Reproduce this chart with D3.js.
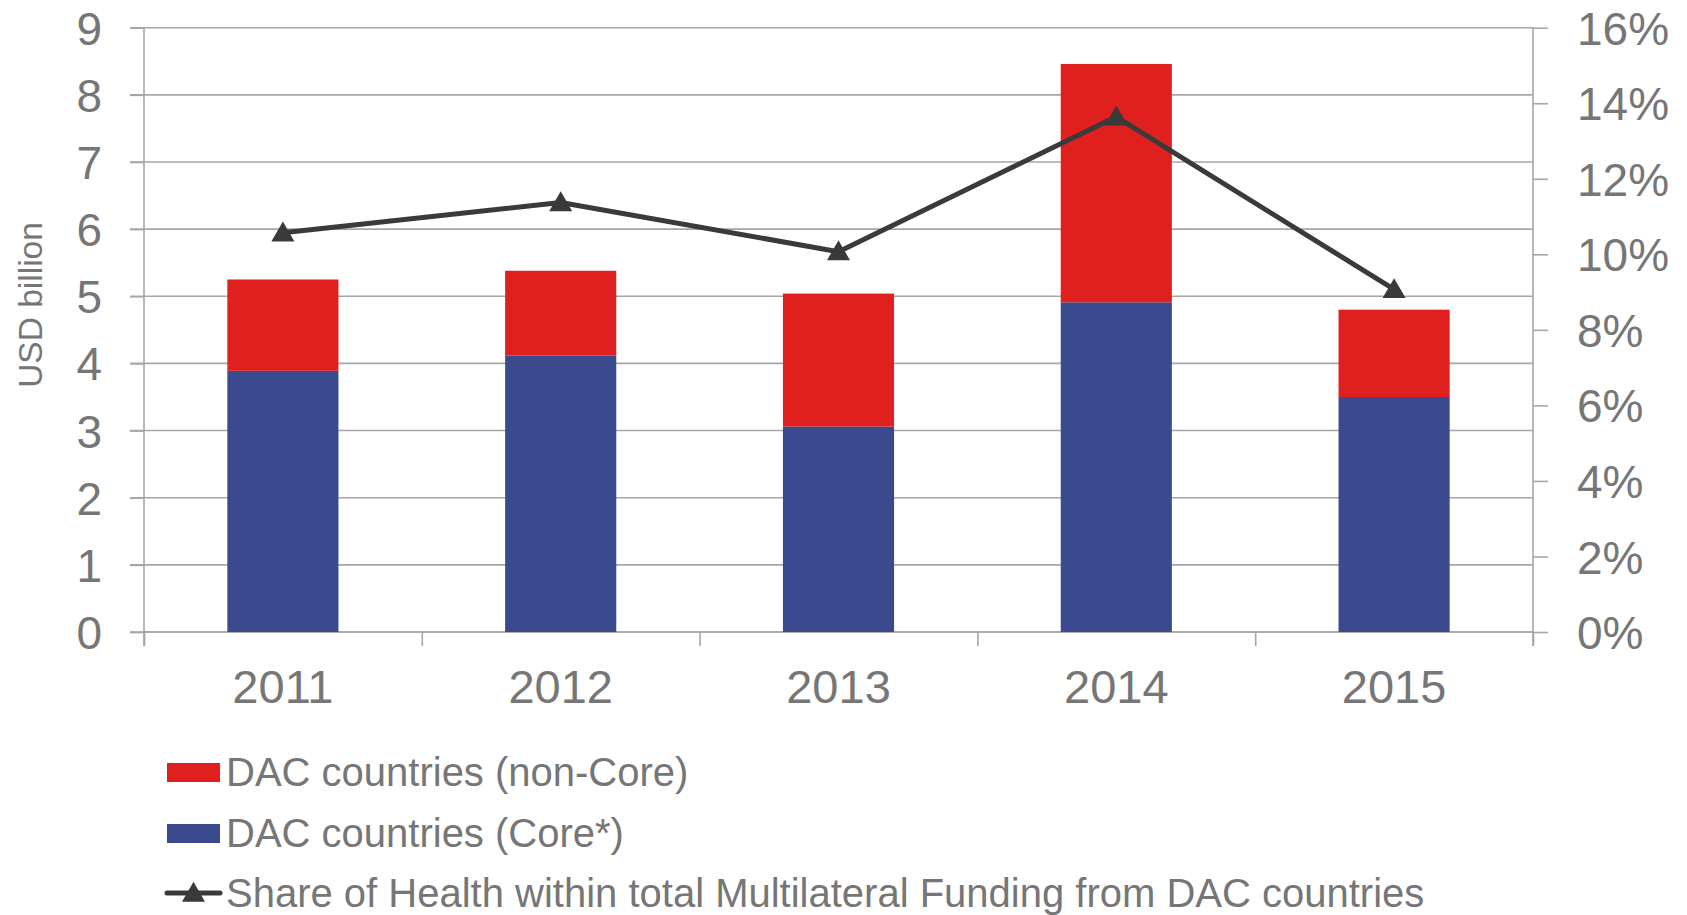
<!DOCTYPE html>
<meta charset="utf-8">
<style>
body { margin: 0; background: #fff; }
svg text { font-family: "Liberation Sans", Arial, sans-serif; fill: #767676; }
.grid line { stroke: #a6a6a6; stroke-width: 1.6px; }
.axis path, .axis line { stroke: #a6a6a6; stroke-width: 1.6px; }
.line { fill: none; stroke: #3a3a3a; stroke-width: 5px; stroke-linejoin: round; }
</style>
<body>
<svg width="1687" height="915"></svg>
<script src="https://d3js.org/d3.v7.min.js"></script>
<script>

var years = ["2011", "2012", "2013", "2014", "2015"];
var coreValues = [3.89, 4.12, 3.06, 4.91, 3.50];
var nonCoreValues = [1.36, 1.26, 1.98, 3.55, 1.30];
var healthShare = [10.57, 11.37, 10.07, 13.64, 9.07];
var leftTicks = [0, 1, 2, 3, 4, 5, 6, 7, 8, 9];
var rightTicks = [0, 2, 4, 6, 8, 10, 12, 14, 16];
var legendLabels = ["DAC countries (non-Core)", "DAC countries (Core*)",
  "Share of Health within total Multilateral Funding from DAC countries"];

var red = "#e01f1f", blue = "#3b4a8e";

var svg = d3.select("svg"),
    plotLeft = 144, plotRight = 1533, plotTop = 27.7, plotBottom = 632;

var x = d3.scaleBand()
    .domain(years)
    .range([plotLeft, plotRight])
    .paddingInner(0.6)
    .paddingOuter(0.3);

var xEdge = d3.scaleLinear().domain([0, years.length]).range([plotLeft, plotRight]);

var y = d3.scaleLinear().domain([0, 9]).range([plotBottom, plotTop]);
var y2 = d3.scaleLinear().domain([0, 16]).range([plotBottom, plotTop]);

// horizontal gridlines
svg.append("g")
    .attr("class", "grid")
    .selectAll("line")
    .data(leftTicks)
    .enter().append("line")
      .attr("x1", plotLeft - 14)
      .attr("x2", plotRight)
      .attr("y1", function(d) { return y(d); })
      .attr("y2", function(d) { return y(d); });

// left axis
var yAxis = svg.append("g")
    .attr("class", "axis")
    .attr("transform", "translate(" + plotLeft + ",0)")
    .call(d3.axisLeft(y).tickValues(leftTicks).tickSize(14).tickSizeOuter(0).tickPadding(28));
yAxis.select(".domain").attr("d", "M0," + plotTop + "V" + (plotBottom + 14));
yAxis.selectAll("text")
    .style("font-size", "46px")
    .attr("dy", "0.36em")
    .attr("fill", null);

// right axis
var y2Axis = svg.append("g")
    .attr("class", "axis")
    .attr("transform", "translate(" + plotRight + ",0)")
    .call(d3.axisRight(y2).tickValues(rightTicks).tickSize(15).tickSizeOuter(0).tickPadding(29)
      .tickFormat(function(d) { return d + "%"; }));
y2Axis.select(".domain").attr("d", "M0," + plotTop + "V" + (plotBottom + 14));
y2Axis.selectAll("text")
    .style("font-size", "46px")
    .attr("dy", "0.36em")
    .attr("fill", null);

// bottom axis: boundary ticks
var xAxis = svg.append("g")
    .attr("class", "axis")
    .attr("transform", "translate(0," + plotBottom + ")")
    .call(d3.axisBottom(xEdge).ticks(years.length).tickSize(14).tickSizeOuter(0).tickFormat(""));
xAxis.select(".domain").attr("d", "M" + plotLeft + ",0H" + plotRight);

// category labels
var xLabels = svg.append("g")
    .attr("transform", "translate(0," + plotBottom + ")")
    .call(d3.axisBottom(x).tickSize(0).tickPadding(38));
xLabels.select(".domain").remove();
xLabels.selectAll("text")
    .style("font-size", "47px")
    .attr("fill", null);

// axis title
svg.append("text")
    .attr("transform", "translate(42,305) rotate(-90)")
    .attr("text-anchor", "middle")
    .style("font-size", "33.5px")
    .text("USD billion");

// stacked bars
svg.selectAll(".core")
    .data(years)
    .enter().append("rect")
      .attr("x", function(d) { return x(d); })
      .attr("width", x.bandwidth())
      .attr("y", function(d, i) { return y(coreValues[i]); })
      .attr("height", function(d, i) { return y(0) - y(coreValues[i]); })
      .attr("fill", blue);

svg.selectAll(".noncore")
    .data(years)
    .enter().append("rect")
      .attr("x", function(d) { return x(d); })
      .attr("width", x.bandwidth())
      .attr("y", function(d, i) { return y(coreValues[i] + nonCoreValues[i]); })
      .attr("height", function(d, i) { return y(coreValues[i]) - y(coreValues[i] + nonCoreValues[i]); })
      .attr("fill", red);

// line
var line = d3.line()
    .x(function(d, i) { return x(years[i]) + x.bandwidth() / 2; })
    .y(function(d) { return y2(d); });

svg.append("path")
    .datum(healthShare)
    .attr("class", "line")
    .attr("d", line);

var tri = d3.symbol().type(d3.symbolTriangle).size(230);

svg.selectAll(".marker")
    .data(healthShare)
    .enter().append("path")
      .attr("transform", function(d, i) {
        return "translate(" + (x(years[i]) + x.bandwidth() / 2) + "," + (y2(d) + 2) + ")";
      })
      .attr("d", tri)
      .attr("fill", "#3a3a3a");

// legend
var legend = svg.append("g").attr("transform", "translate(167,0)");
var rowY = [786, 847, 907];

legend.append("rect").attr("x", 0).attr("y", rowY[0] - 23).attr("width", 53).attr("height", 19).attr("fill", red);
legend.append("rect").attr("x", 0).attr("y", rowY[1] - 23).attr("width", 53).attr("height", 19).attr("fill", blue);
legend.append("line")
    .attr("x1", 0).attr("x2", 53)
    .attr("y1", rowY[2] - 14).attr("y2", rowY[2] - 14)
    .attr("stroke", "#3a3a3a").attr("stroke-width", 5).attr("stroke-linecap", "round");
legend.append("path")
    .attr("transform", "translate(26.5," + (rowY[2] - 12) + ")")
    .attr("d", tri)
    .attr("fill", "#3a3a3a");

legend.selectAll(".label")
    .data(legendLabels)
    .enter().append("text")
      .attr("x", 59)
      .attr("y", function(d, i) { return rowY[i]; })
      .style("font-size", "40px")
      .text(function(d) { return d; });

</script>
</body>
